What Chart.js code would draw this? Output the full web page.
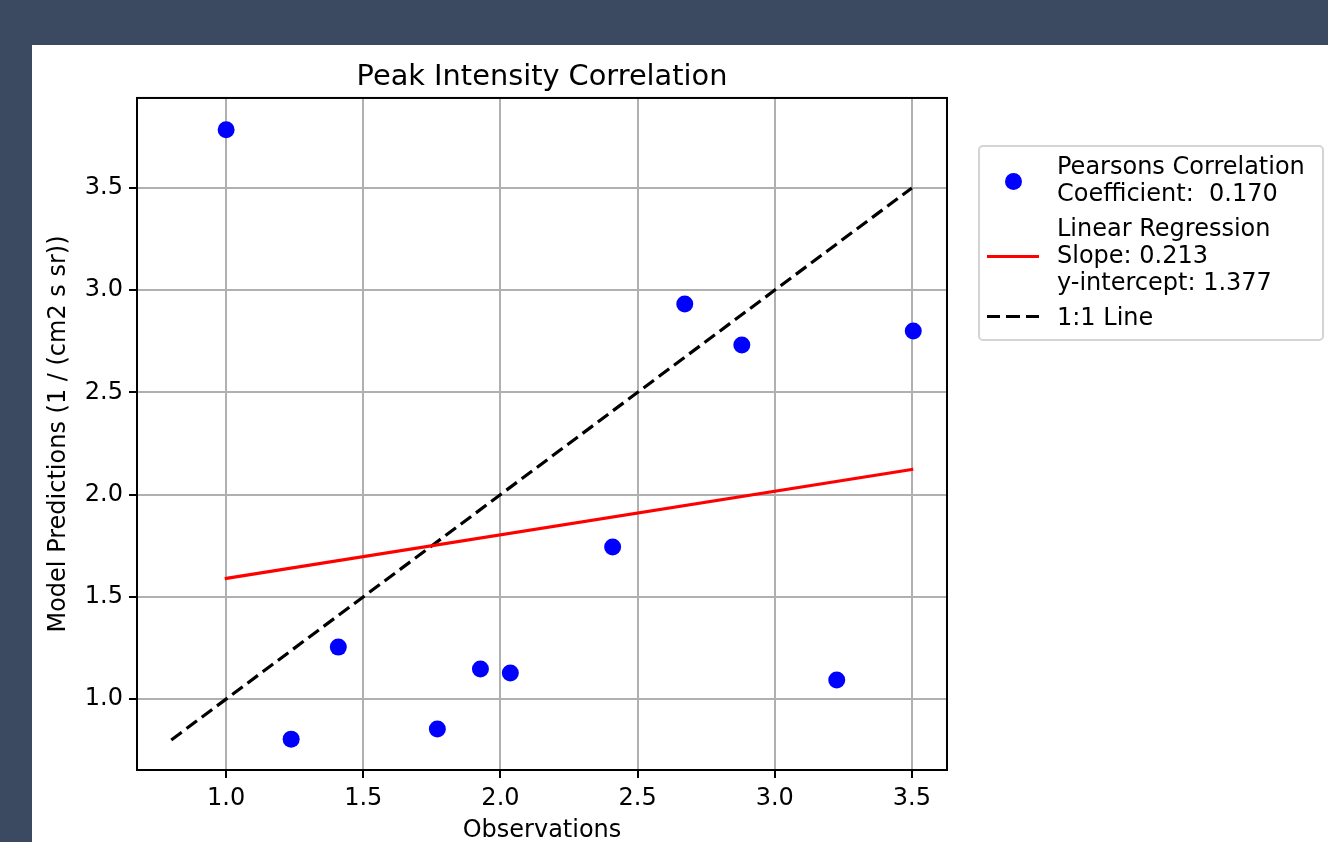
<!DOCTYPE html>
<html>
<head>
<meta charset="utf-8">
<script src="https://cdn.jsdelivr.net/npm/chart.js@4"></script>
<style>
  html, body { margin: 0; padding: 0; overflow: hidden; }
  body { background: #3b4a61; width: 1328px; height: 842px; position: relative; font-family: 'DejaVu Sans', sans-serif; }
  #panel { position: absolute; left: 32px; top: 45px; width: 1296px; height: 797px; background: #fff; overflow: hidden; }
  #wrap { position: absolute; left: 0; top: 0; width: 1296px; height: 800px; }
  #legend {
    position: absolute; left: 946px; top: 100px; width: 346px; height: 196px;
    border: 2px solid #d4d4d4; border-radius: 5px; background: #fff; box-sizing: border-box;
    font-size: 24px; line-height: 27px; color: #000;
  }
  .item { position: absolute; left: 0; white-space: pre; }
  .item .txt { position: absolute; left: 77px; top: 0; }
  .dot { position: absolute; left: 25px; width: 17px; height: 17px; border-radius: 50%; background: #0000ff; }
  .solid { position: absolute; left: 7px; width: 52px; height: 3px; background: #ff0000; }
  .dash { position: absolute; left: 7px; width: 52px; height: 3px;
          background: repeating-linear-gradient(to right, #000 0 13px, transparent 13px 19.5px); }
</style>
</head>
<body>
<div id="panel">
  <div id="wrap"><canvas id="chart" width="1296" height="800"></canvas></div>
  <div id="legend"></div>
</div>
<script>
// observations vs model predictions
const obsX  = [1.000, 1.237, 1.409, 1.770, 1.927, 2.036, 2.409, 2.672, 2.880, 3.226, 3.505];
const predY = [3.784, 0.804, 1.254, 0.853, 1.147, 1.127, 1.744, 2.932, 2.732, 1.093, 2.800];

// fitted line and 1:1 reference, end points as drawn
const regX = [0.995, 3.505];
const regY = [1.589, 2.124];
const oneX = [0.8, 3.5];
const oneY = [0.8, 3.5];

const xTicks = [1.0, 1.5, 2.0, 2.5, 3.0, 3.5];
const yTicks = [1.0, 1.5, 2.0, 2.5, 3.0, 3.5];

const legendLines = [
  ['Pearsons Correlation', 'Coefficient:  0.170'],
  ['Linear Regression', 'Slope: 0.213', 'y-intercept: 1.377'],
  ['1:1 Line']
];

const FONT = 'DejaVu Sans';

function pairs(xs, ys) {
  return xs.map((x, i) => ({ x: x, y: ys[i] }));
}

function fixTicks(list) {
  return scale => { scale.ticks = list.map(v => ({ value: v })); };
}

const framePlugin = {
  id: 'frame',
  afterDatasetsDraw(chart) {
    const a = chart.chartArea;
    const ctx = chart.ctx;
    ctx.save();
    ctx.strokeStyle = '#000';
    ctx.lineWidth = 2;
    ctx.strokeRect(a.left, a.top, a.right - a.left, a.bottom - a.top);
    ctx.restore();
  }
};

function buildLegend() {
  const el = document.getElementById('legend');
  const tops = [6, 68, 157];
  const marks = ['dot', 'solid', 'dash'];
  const markTop = [26, 108, 168];
  el.innerHTML = legendLines.map((lines, i) => `
    <div class="item" style="top:${tops[i]}px">
      <div class="${marks[i]}" style="top:${markTop[i] - tops[i]}px"></div>
      <div class="txt">${lines.join('\n')}</div>
    </div>
  `).join('');
}

const axisCommon = {
  type: 'linear',
  border: { display: false },
  grid: {
    color: '#b0b0b0',
    lineWidth: 2,
    tickColor: '#000',
    tickWidth: 2,
    tickLength: 8
  },
  ticks: {
    color: '#000',
    font: { family: FONT, size: 24 },
    padding: 6,
    callback: v => v.toFixed(1)
  }
};

new Chart(document.getElementById('chart'), {
  type: 'scatter',
  data: {
    datasets: [
      {
        label: 'Pearsons Correlation',
        data: pairs(obsX, predY),
        backgroundColor: '#0000ff',
        borderWidth: 0,
        pointRadius: 8.5,
        order: 1
      },
      {
        label: 'Linear Regression',
        data: pairs(regX, regY),
        showLine: true,
        borderColor: '#ff0000',
        borderWidth: 3.2,
        pointRadius: 0,
        order: 2
      },
      {
        label: '1:1 Line',
        data: pairs(oneX, oneY),
        showLine: true,
        borderColor: '#000',
        borderWidth: 3.2,
        borderDash: [13, 6],
        pointRadius: 0,
        order: 3
      }
    ]
  },
  options: {
    responsive: false,
    animation: false,
    devicePixelRatio: 1,
    layout: { padding: { left: 0, right: 381, top: 0, bottom: 0 } },
    plugins: {
      legend: { display: false },
      tooltip: { enabled: false },
      title: {
        display: true,
        fullSize: false,
        text: 'Peak Intensity Correlation',
        color: '#000',
        font: { family: FONT, size: 28.8, weight: 'normal' },
        padding: { top: 15.5, bottom: 2.9 }
      }
    },
    scales: {
      x: Object.assign({}, axisCommon, {
        min: 0.675,
        max: 3.628,
        afterBuildTicks: fixTicks(xTicks),
        afterFit: s => { s.height = 75; },
        title: {
          display: true,
          text: 'Observations',
          color: '#000',
          font: { family: FONT, size: 24 },
          padding: 0
        }
      }),
      y: Object.assign({}, axisCommon, {
        min: 0.653,
        max: 3.94,
        afterBuildTicks: fixTicks(yTicks),
        afterFit: s => { s.width = 105; },
        title: {
          display: true,
          text: 'Model Predictions (1 / (cm2 s sr))',
          color: '#000',
          font: { family: FONT, size: 24 },
          padding: { top: 12, bottom: 0 }
        }
      })
    }
  },
  plugins: [framePlugin]
});

buildLegend();
</script>
</body>
</html>
